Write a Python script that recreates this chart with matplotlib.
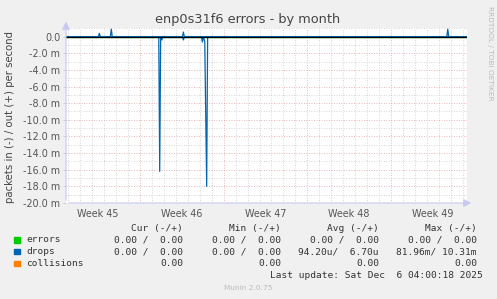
import math
import matplotlib
matplotlib.use("Agg")
import matplotlib.pyplot as plt
from matplotlib.ticker import FuncFormatter, MultipleLocator

# ---- data (x in days since Mon Nov 3 2025 00:00, y in packets/s) ----
week_labels = ["Week 45", "Week 46", "Week 47", "Week 48", "Week 49"]
week_label_days = [3.5, 10.5, 17.5, 24.5, 31.5]
week_line_days = [7, 14, 21, 28]
x_start, x_end = 0.81, 34.36

drops_out_day = [0.81, 3.52, 3.60, 3.68, 4.52, 4.60, 4.68, 10.55, 10.63, 10.71, 32.67, 32.75, 32.83, 34.36]
drops_out_val = [0.0, 0.0, 0.0004, 0.0, 0.0, 0.0009, 0.0, 0.0, 0.00055, 0.0, 0.0, 0.0009, 0.0, 0.0]

drops_in_day = [0.81, 8.57, 8.65, 8.73, 8.83, 8.91, 10.55, 10.63, 10.71,
                12.14, 12.22, 12.30, 12.42, 12.58, 12.66, 34.36]
drops_in_val = [0.0, 0.0, -0.0162, 0.0, -0.0004, 0.0, 0.0, -0.0004, 0.0,
                0.0, -0.00065, 0.0, -0.0006, -0.0180, 0.0, 0.0]

errors_day = [0.81, 34.36]
errors_in = [0.0, 0.0]
errors_out = [0.0, 0.0]
collisions_val = [0.0, 0.0]

legend_names = ["errors", "drops", "collisions"]
legend_colors = ["#00CC00", "#0066B3", "#FF8000"]
legend_cur = ["0.00 /  0.00", "0.00 /  0.00", "0.00"]
legend_min = ["0.00 /  0.00", "0.00 /  0.00", "0.00"]
legend_avg = ["0.00 /  0.00", "94.20u/  6.70u", "0.00"]
legend_max = ["0.00 /  0.00", "81.96m/ 10.31m", "0.00"]
legend_headers = ["Cur (-/+)", "Min (-/+)", "Avg (-/+)", "Max (-/+)"]

W, H = 497, 299
fig = plt.figure(figsize=(W / 100, H / 100), dpi=100)
fig.patch.set_facecolor("#F0F0F0")

def fx(px):
    return px / W

def fy(py):
    return 1 - py / H

ax = fig.add_axes([fx(66), fy(203), fx(467) - fx(66), (203 - 28.3) / H])
ax.set_facecolor("white")
ax.set_xlim(x_start, x_end)
ax.set_ylim(-0.020, 0.001)
for s in ax.spines.values():
    s.set_visible(False)

ax.yaxis.set_major_locator(MultipleLocator(0.002))
ax.yaxis.set_minor_locator(MultipleLocator(0.001))
def yfmt(v, pos):
    if abs(v) < 1e-9:
        return "0.0"
    return "%.1f m" % (v * 1000)
ax.yaxis.set_major_formatter(FuncFormatter(yfmt))
ax.grid(False)
day = math.ceil(x_start)
while day < x_end:
    if day not in week_line_days:
        ax.axvline(day, color="#C8C8C8", lw=0.6, ls=(0, (1, 2)), zorder=1)
    day += 1
for wd in week_line_days:
    ax.axvline(wd, color="#E0A0A0", lw=0.6, ls=(0, (1, 2)), zorder=1)
for k in range(-20, 2):
    v = k * 0.001
    if k % 2 == 0:
        ax.axhline(v, color="#E0A0A0", lw=0.6, ls=(0, (1, 2)), zorder=1)
    else:
        ax.axhline(v, color="#C8C8C8", lw=0.6, ls=(0, (1, 2)), zorder=1)

ax.tick_params(axis="y", which="major", length=2, width=0.6, color="#C8C8C8",
               labelsize=6.9, labelcolor="#555555", pad=2)
ax.tick_params(axis="y", which="minor", length=0)
ax.set_xticks(week_label_days)
ax.set_xticklabels(week_labels)
ax.tick_params(axis="x", length=0, labelsize=6.9, labelcolor="#555555", pad=4)

# data lines
ax.plot(errors_day, errors_in, color=legend_colors[0], lw=0.8, zorder=3)
ax.plot(errors_day, errors_out, color=legend_colors[0], lw=0.8, zorder=3)
ax.plot(errors_day, collisions_val, color=legend_colors[2], lw=0.8, zorder=3)
ax.plot(drops_in_day, drops_in_val, color=legend_colors[1], lw=0.9, zorder=4)
ax.plot(drops_out_day, drops_out_val, color=legend_colors[1], lw=0.9, zorder=4)
ax.axhline(0, color="black", lw=0.9, zorder=5)

# axis arrows
axis_col = "#C8C8F0"
fig.add_artist(matplotlib.patches.FancyArrowPatch(
    (fx(66), fy(203)), (fx(66), fy(19)), transform=fig.transFigure,
    arrowstyle="-|>,head_length=3,head_width=1.6", color=axis_col, lw=0.8,
    mutation_scale=1.5))
fig.add_artist(matplotlib.patches.FancyArrowPatch(
    (fx(66), fy(203)), (fx(474), fy(203)), transform=fig.transFigure,
    arrowstyle="-|>,head_length=3,head_width=1.6", color=axis_col, lw=0.8,
    mutation_scale=1.5))

# titles
fig.text(fx(248), fy(19.5), "enp0s31f6 errors - by month", ha="center", va="center",
         fontsize=9.3, color="#444444", family="DejaVu Sans")
fig.text(fx(10), fy(117), "packets in (-) / out (+) per second", rotation=90,
         ha="center", va="center", fontsize=7.3, color="#444444", family="DejaVu Sans")
fig.text(fx(490), fy(53), "RRDTOOL / TOBI OETIKER", rotation=270, ha="center",
         va="center", fontsize=5.3, color="#BBBBBB", family="DejaVu Sans")

# legend
mono = "DejaVu Sans Mono"
fs = 6.8
tc = "#333333"
header_x = [183, 281, 379, 477]
for hx, h in zip(header_x, legend_headers):
    fig.text(fx(hx), fy(228.5), h, ha="right", va="center", fontsize=fs, color=tc, family=mono)
row_y = [239.8, 251.6, 263.6]
for i, name in enumerate(legend_names):
    y = row_y[i]
    fig.add_artist(matplotlib.patches.Rectangle((fx(14), fy(y + 2.7)), fx(5.5), 5.5 / H,
                                                transform=fig.transFigure,
                                                color=legend_colors[i]))
    fig.text(fx(26), fy(y), name, ha="left", va="center", fontsize=fs, color=tc, family=mono)
    for hx, col in zip(header_x, [legend_cur, legend_min, legend_avg, legend_max]):
        fig.text(fx(hx), fy(y), col[i], ha="right", va="center", fontsize=fs,
                 color=tc, family=mono)
fig.text(fx(483), fy(276), "Last update: Sat Dec  6 04:00:18 2025", ha="right",
         va="center", fontsize=fs, color=tc, family=mono)
fig.text(fx(248), fy(288), "Munin 2.0.75", ha="center", va="center", fontsize=5.3,
         color="#BBBBBB", family="DejaVu Sans")

fig.savefig("out.png", dpi=100, facecolor=fig.get_facecolor())
